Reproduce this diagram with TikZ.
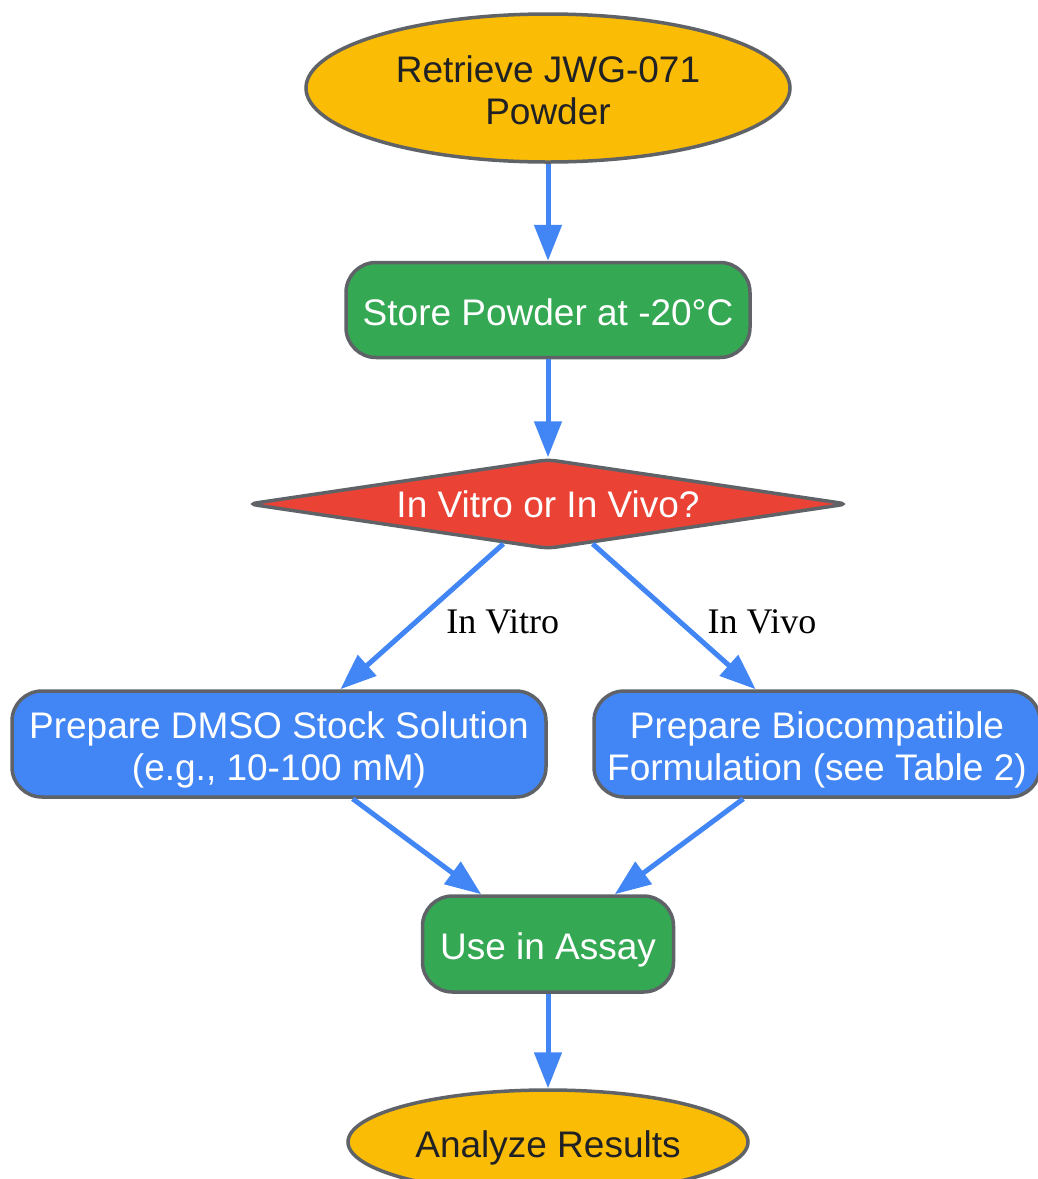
\documentclass[tikz,border=0pt]{standalone}
\usepackage{fontspec}
\setmainfont{Liberation Sans}
\newfontfamily\labelfont{Liberation Serif}
\usetikzlibrary{shapes.geometric,arrows.meta}
\definecolor{gyellow}{HTML}{FBBC05}
\definecolor{ggreen}{HTML}{34A853}
\definecolor{gred}{HTML}{EA4335}
\definecolor{gblue}{HTML}{4285F4}
\definecolor{gborder}{HTML}{5F6368}
\definecolor{gtext}{HTML}{202124}
\newcommand\tstrut{\rule{0pt}{38pt}}
\newcommand\bstrut{\rule[-8pt]{0pt}{0pt}}
\tikzset{
  base/.style={draw=gborder, line width=3.5pt, inner sep=0pt, align=center, font=\fontsize{37}{42}\selectfont},
  terminal/.style={base, ellipse, fill=gyellow, text=gtext},
  greenbox/.style={base, rectangle, rounded corners=30pt, fill=ggreen, text=white},
  bluebox/.style={base, rectangle, rounded corners=30pt, fill=gblue, text=white},
  decision/.style={base, diamond, aspect=6.67, rounded corners=8pt, fill=gred, text=white},
  flow/.style={draw=gblue, line width=5pt, -{Triangle[length=36pt,width=27pt]}},
  elabel/.style={font=\labelfont\fontsize{36}{40}\selectfont, text=black, inner sep=0pt}
}
\begin{document}
\begin{tikzpicture}[x=1pt,y=-1pt]
\useasboundingbox (0,0) rectangle (1038,1179);
\node[terminal, minimum width=484pt, minimum height=148pt] (retrieve) at (548,88) {\tstrut Retrieve JWG-071\\Powder\bstrut};
\node[greenbox, minimum width=404pt, minimum height=95pt] (store) at (548,310) {\tstrut Store Powder at -20°C\bstrut};
\node[decision, minimum width=600pt, minimum height=90pt] (choice) at (548,504) {In Vitro or In Vivo?};
\node[bluebox, minimum width=534pt, minimum height=106pt] (dmso) at (279,744) {\tstrut Prepare DMSO Stock Solution\\(e.g., 10-100 mM)\bstrut};
\node[bluebox, minimum width=446pt, minimum height=106pt] (bio) at (817,744) {\tstrut Prepare Biocompatible\\Formulation (see Table 2)\bstrut};
\node[greenbox, minimum width=251pt, minimum height=96pt] (assay) at (548,944) {\tstrut Use in Assay\bstrut};
\node[terminal, minimum width=400pt, minimum height=104pt] (analyze) at (548,1142) {\tstrut Analyze Results\bstrut};

\draw[flow] (retrieve) -- (store);
\draw[flow] (store) -- (choice);
\draw[flow] (choice) -- node[elabel, midway, anchor=base west, xshift=22pt, yshift=-17pt] (lvitro) {In Vitro} (dmso);
\draw[flow] (choice) -- node[elabel, midway, anchor=base west, xshift=31pt, yshift=-17pt] (lvivo) {In Vivo} (bio);
\draw[flow] (dmso) -- (assay);
\draw[flow] (bio) -- (assay);
\draw[flow] (assay) -- (analyze);
\end{tikzpicture}
\end{document}
